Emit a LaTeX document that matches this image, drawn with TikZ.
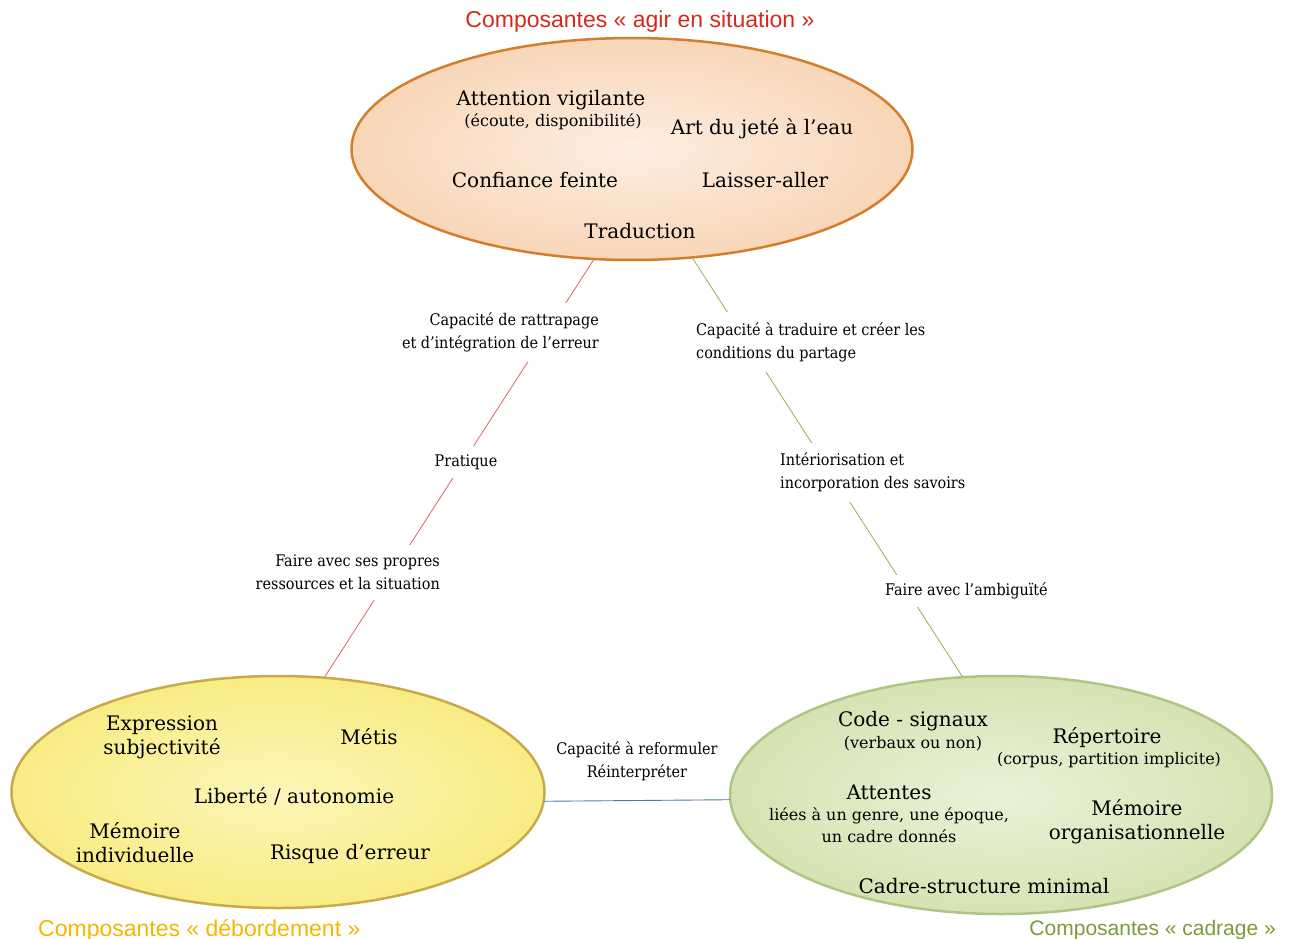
\documentclass[tikz,border=0pt]{standalone}
\usepackage{fontspec}
\setmainfont{DejaVu Serif}
\newfontfamily\labfont{DejaVu Serif Condensed}
\newfontfamily\titfont{Liberation Sans}
\usetikzlibrary{shapes.geometric}
\definecolor{topfillin}{HTML}{FDEEE2}
\definecolor{topfillout}{HTML}{F8D6B8}
\definecolor{topedge}{HTML}{D47E2C}
\definecolor{ylfillin}{HTML}{FCF6B8}
\definecolor{ylfillout}{HTML}{F8EC84}
\definecolor{yledge}{HTML}{C9A94A}
\definecolor{grfillin}{HTML}{EAF2D8}
\definecolor{grfillout}{HTML}{D5E3B2}
\definecolor{gredge}{HTML}{AFC585}
\definecolor{redline}{HTML}{E07070}
\definecolor{grline}{HTML}{9DB45E}
\definecolor{blline}{HTML}{4A7DB0}
\definecolor{tred}{HTML}{D42A1E}
\definecolor{tyel}{HTML}{F4B600}
\definecolor{tgrn}{HTML}{7D9A3A}
\tikzset{
  ell/.style={ellipse, draw, line width=2.5pt, inner sep=0pt, outer sep=0pt, shading=radial},
  main/.style={font=\fontsize{20}{24}\selectfont, inner sep=0pt, align=center},
  sub/.style={font=\fontsize{16}{22}\selectfont, inner sep=0pt, align=center},
  lab/.style={font=\labfont\fontsize{16}{23}\selectfont, fill=white, inner xsep=2pt},
  title/.style={font=\titfont\fontsize{23}{26}\selectfont, inner sep=0pt},
  conn/.style={line width=0.9pt}
}
\begin{document}
\begin{tikzpicture}[x=1pt,y=-1pt]
\useasboundingbox (0,0) rectangle (1293,939);
% ellipses
\node[ell, draw=topedge, inner color=topfillin, outer color=topfillout, minimum width=561pt, minimum height=222pt] (top) at (632,149) {};
\node[ell, draw=yledge, inner color=ylfillin, outer color=ylfillout, minimum width=533pt, minimum height=232pt] (bl) at (278,792) {};
\node[ell, draw=gredge, inner color=grfillin, outer color=grfillout, minimum width=542pt, minimum height=238pt] (br) at (1001,795) {};
% connectors
\draw[conn, draw=redline] (top.251) -- (bl.68);
\draw[conn, draw=grline] (top.299) -- (br.108);
\draw[conn, draw=blline] (bl.-2) -- (br.181);
% titles
\node[title, text=tred] (t1) at (640,22) {Composantes « agir en situation »};
\node[title, text=tyel, anchor=west] (t2) at (38,930) {Composantes « débordement »};
\node[title, text=tgrn, anchor=east, font=\titfont\fontsize{21}{24}\selectfont] (t3) at (1276,930) {Composantes « cadrage »};
% top ellipse texts
\node[main] (a1) at (551,100) {Attention vigilante};
\node[sub] (a1s) at (553,122) {(écoute, disponibilité)};
\node[main] (a2) at (762,129) {Art du jeté à l’eau};
\node[main] (a3) at (535,180) {Confiance feinte};
\node[main] (a4) at (765,180) {Laisser-aller};
\node[main] (a5) at (640,231) {Traduction};
% bottom-left texts
\node[main] (b1) at (162,737) {Expression\\subjectivité};
\node[main] (b2) at (369,737) {Métis};
\node[main] (b3) at (294,796) {Liberté / autonomie};
\node[main] (b4) at (135,843) {Mémoire\\individuelle};
\node[main] (b5) at (350,854) {Risque d’erreur};
% bottom-right texts
\node[main] (c1) at (913,721) {Code - signaux};
\node[sub] (c1s) at (913,744) {(verbaux ou non)};
\node[main] (c2) at (1107,738) {Répertoire};
\node[sub] (c2s) at (1109,760) {(corpus, partition implicite)};
\node[main] (c3) at (889,792) {Attentes};
\node[sub] (c3s) at (889,825) {liées à un genre, une époque,\\un cadre donnés};
\node[main] (c4) at (1137,822) {Mémoire\\organisationnelle};
\node[main] (c5) at (984,886) {Cadre-structure minimal};
% connector labels
\node[lab, align=right, anchor=east, inner ysep=10pt] (l1) at (601,332.5) {Capacité de rattrapage\\et d’intégration de l’erreur};
\node[lab, align=center, inner ysep=8pt] (l2) at (466,462) {Pratique};
\node[lab, align=right, anchor=east, inner ysep=10pt] (l3) at (442,572.5) {Faire avec ses propres\\ressources et la situation};
\node[lab, align=left, anchor=west, inner ysep=10pt] (r1) at (694,342) {Capacité à traduire et créer les\\conditions du partage};
\node[lab, align=left, anchor=west, inner ysep=10pt] (r2) at (778,472.5) {Intériorisation et\\incorporation des savoirs};
\node[lab, align=left, anchor=west, inner ysep=8pt] (r3) at (883,591) {Faire avec l’ambiguïté};
\node[lab, align=center, fill=none] (m1) at (637,761.5) {Capacité à reformuler\\Réinterpréter};
\end{tikzpicture}
\end{document}
